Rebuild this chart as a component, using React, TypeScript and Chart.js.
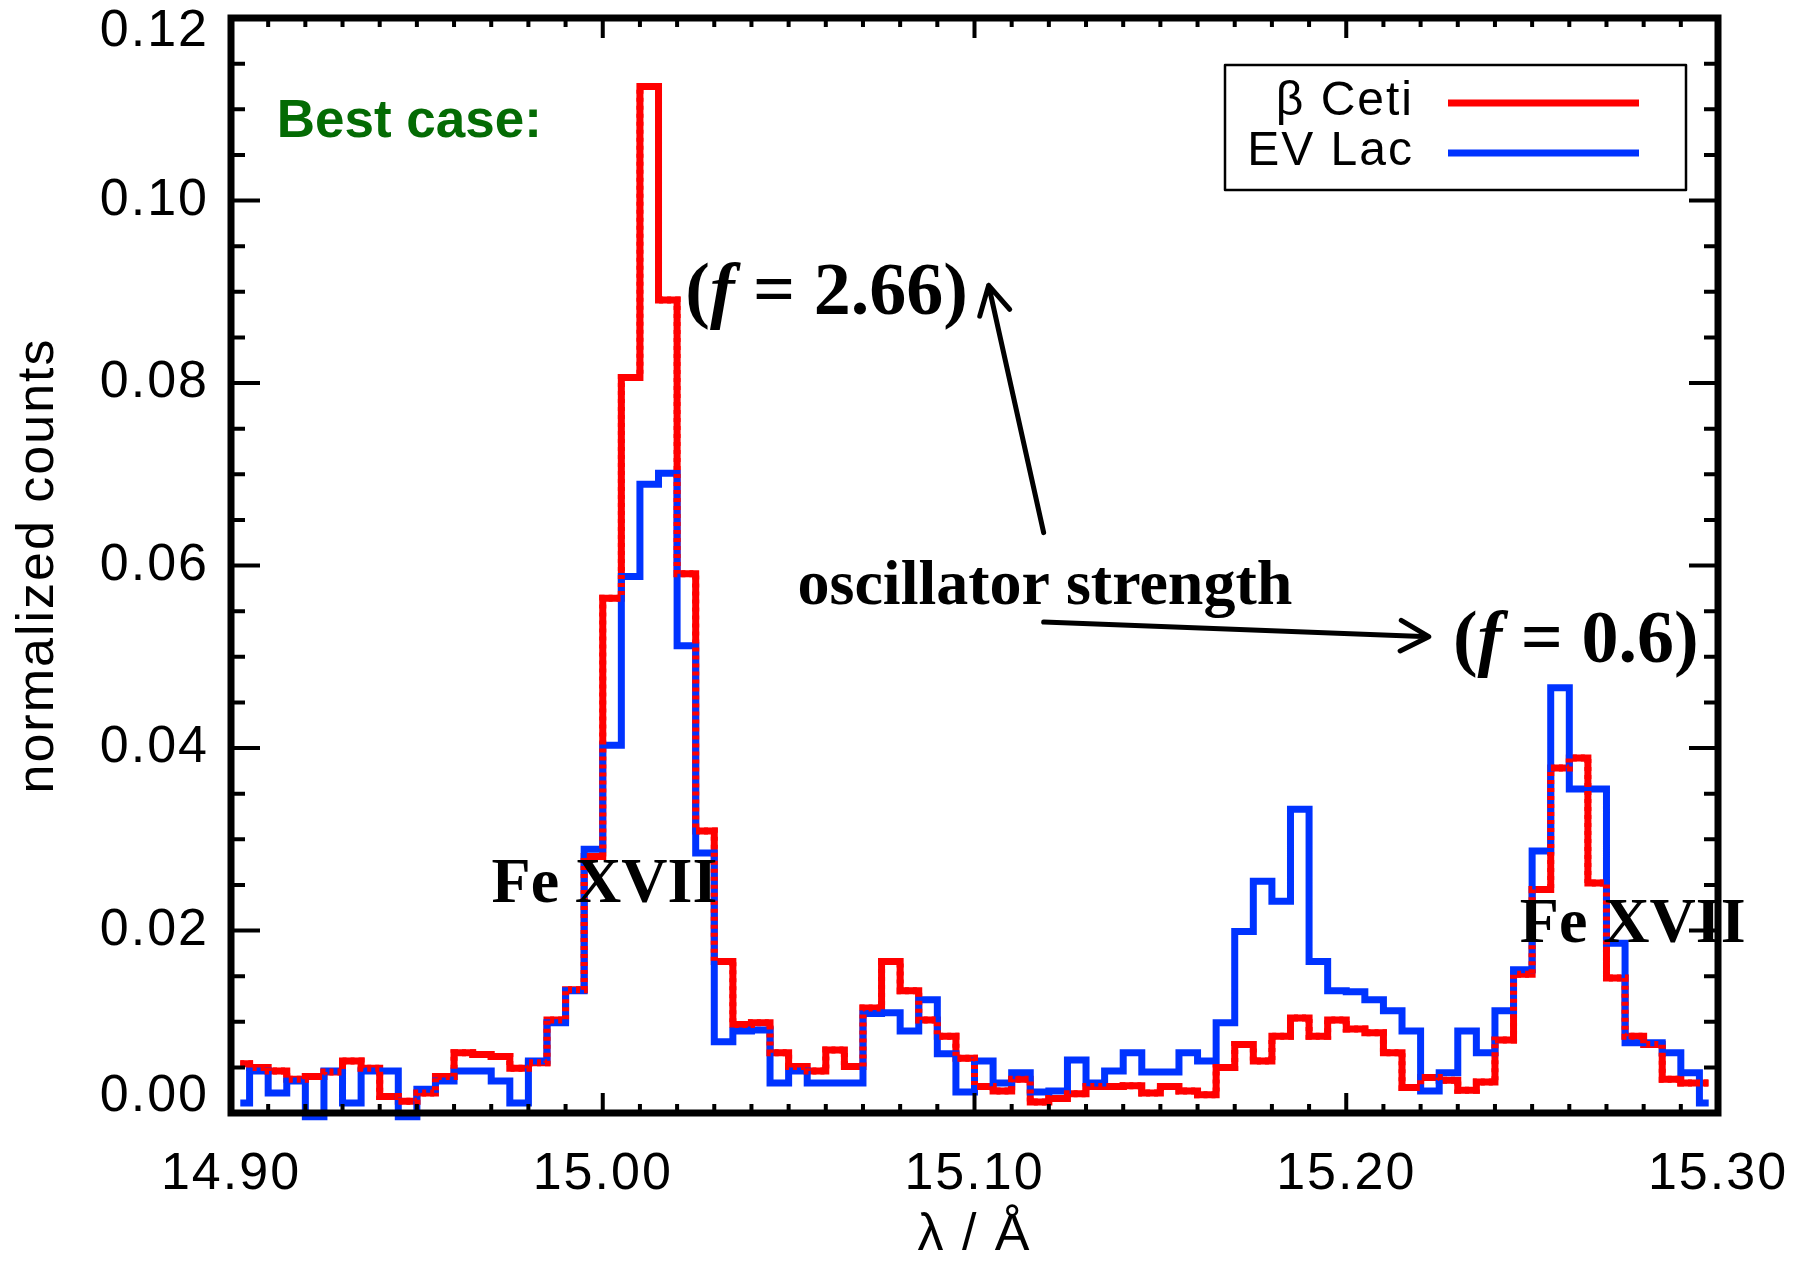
import React, { useEffect, useRef } from 'react';
import { Chart, registerables } from 'chart.js';

Chart.register(...registerables);

// Bin centres (Å)
const wavelength = [
  14.9025, 14.9075, 14.9125, 14.9175, 14.9225, 14.9275, 14.9325, 14.9375, 14.9425, 14.9475,
  14.9525, 14.9575, 14.9625, 14.9675, 14.9725, 14.9775, 14.9825, 14.9875, 14.9925, 14.9975,
  15.0025, 15.0075, 15.0125, 15.0175, 15.0225, 15.0275, 15.0325, 15.0375, 15.0425, 15.0475,
  15.0525, 15.0575, 15.0625, 15.0675, 15.0725, 15.0775, 15.0825, 15.0875, 15.0925, 15.0975,
  15.1025, 15.1075, 15.1125, 15.1175, 15.1225, 15.1275, 15.1325, 15.1375, 15.1425, 15.1475,
  15.1525, 15.1575, 15.1625, 15.1675, 15.1725, 15.1775, 15.1825, 15.1875, 15.1925, 15.1975,
  15.2025, 15.2075, 15.2125, 15.2175, 15.2225, 15.2275, 15.2325, 15.2375, 15.2425, 15.2475,
  15.2525, 15.2575, 15.2625, 15.2675, 15.2725, 15.2775, 15.2825, 15.2875, 15.2925, 15.2975,
];

// normalized counts, beta Ceti (red)
const betaCeti = [
  0.0054, 0.0050, 0.0046, 0.0037, 0.0040, 0.0045, 0.0057, 0.0049, 0.0018, 0.0013,
  0.0022, 0.0040, 0.0066, 0.0064, 0.0062, 0.0049, 0.0055, 0.0102, 0.0135, 0.0281,
  0.0564, 0.0806, 0.1125, 0.0891, 0.0591, 0.0309, 0.0166, 0.0097, 0.0099, 0.0066,
  0.0051, 0.0046, 0.0069, 0.0051, 0.0115, 0.0166, 0.0134, 0.0102, 0.0084, 0.0060,
  0.0029, 0.0024, 0.0037, 0.0012, 0.0016, 0.0021, 0.0029, 0.0029, 0.0030, 0.0022,
  0.0029, 0.0024, 0.0020, 0.0050, 0.0075, 0.0057, 0.0084, 0.0104, 0.0084, 0.0102,
  0.0092, 0.0088, 0.0066, 0.0028, 0.0039, 0.0036, 0.0025, 0.0034, 0.0080, 0.0152,
  0.0245, 0.0378, 0.0389, 0.0252, 0.0148, 0.0084, 0.0075, 0.0037, 0.0033, 0.0033,
];

// normalized counts, EV Lac (blue)
const evLac = [
  0.0011, 0.0046, 0.0022, 0.0035, -0.0004, 0.0046, 0.0011, 0.0046, 0.0046, -0.0004,
  0.0026, 0.0035, 0.0046, 0.0046, 0.0035, 0.0011, 0.0057, 0.0099, 0.0134, 0.0289,
  0.0403, 0.0588, 0.0689, 0.0701, 0.0512, 0.0285, 0.0078, 0.0090, 0.0091, 0.0033,
  0.0046, 0.0033, 0.0033, 0.0033, 0.0109, 0.0110, 0.0090, 0.0124, 0.0065, 0.0023,
  0.0057, 0.0033, 0.0044, 0.0023, 0.0024, 0.0058, 0.0033, 0.0046, 0.0066, 0.0045,
  0.0045, 0.0066, 0.0057, 0.0099, 0.0199, 0.0254, 0.0232, 0.0333, 0.0166, 0.0134,
  0.0133, 0.0124, 0.0112, 0.0090, 0.0024, 0.0044, 0.0090, 0.0066, 0.0112, 0.0157,
  0.0287, 0.0466, 0.0355, 0.0355, 0.0186, 0.0077, 0.0077, 0.0066, 0.0044, 0.0011,
];

const seriesLabels = ['β Ceti', 'EV Lac'];
const xTickValues = [14.9, 15.0, 15.1, 15.2, 15.3];
const yTickValues = [0, 0.02, 0.04, 0.06, 0.08, 0.1, 0.12];

const RED = '#ff0000';
const BLUE = '#0033ff';
const AXIS_FONT = '"Liberation Sans", Arial, sans-serif';
const SERIF = '"Liberation Serif", "Times New Roman", serif';

const toPoints = (ys: number[]) => wavelength.map((x, i) => ({ x, y: ys[i] }));

const overlayPlugin = {
  id: 'overlay',
  beforeDraw(chart: any) {
    chart.ctx.letterSpacing = '2px';
  },
  afterDatasetsDraw(chart: any) {
    const { ctx, chartArea: a, scales } = chart;
    const xs = scales.x;
    const ys = scales.y;
    ctx.save();
    ctx.strokeStyle = '#000';
    ctx.lineCap = 'butt';
    ctx.lineWidth = 4;
    // x ticks (top & bottom), minor every 0.01, major every 0.1
    for (let k = 0; k <= 40; k++) {
      const v = xs.min + k * 0.01;
      const px = xs.getPixelForValue(v);
      const len = k % 10 === 0 ? 20 : 9;
      ctx.beginPath();
      ctx.moveTo(px, a.bottom);
      ctx.lineTo(px, a.bottom - len);
      ctx.moveTo(px, a.top);
      ctx.lineTo(px, a.top + len);
      ctx.stroke();
    }
    // y ticks (left & right), minor every 0.005, major every 0.02
    for (let k = 0; k <= 24; k++) {
      const v = ys.min + k * 0.005;
      const py = ys.getPixelForValue(v);
      const len = k % 4 === 0 ? 29 : 14;
      ctx.beginPath();
      ctx.moveTo(a.left, py);
      ctx.lineTo(a.left + len, py);
      ctx.moveTo(a.right, py);
      ctx.lineTo(a.right - len, py);
      ctx.stroke();
    }
    // frame
    ctx.lineWidth = 7;
    ctx.lineJoin = 'miter';
    ctx.strokeRect(a.left, a.top, a.right - a.left, a.bottom - a.top);
    ctx.restore();
  },
  afterDraw(chart: any) {
    const { ctx, scales } = chart;
    const xs = scales.x;
    const ys = scales.y;
    const X = (v: number) => xs.getPixelForValue(v);
    const Y = (v: number) => ys.getPixelForValue(v);
    ctx.save();
    ctx.letterSpacing = '0px';
    ctx.textAlign = 'left';
    ctx.textBaseline = 'alphabetic';

    // "Best case:"
    ctx.fillStyle = '#046b04';
    ctx.font = `bold 53px ${AXIS_FONT}`;
    ctx.fillText('Best case:', X(14.9123), Y(0.107));

    ctx.fillStyle = '#000';
    const fText = (x: number, y: number, rest: string, size: number) => {
      ctx.font = `bold ${size}px ${SERIF}`;
      ctx.fillText('(', x, y);
      let cx = x + ctx.measureText('(').width;
      ctx.font = `italic bold ${size}px ${SERIF}`;
      ctx.fillText('f', cx, y);
      cx += ctx.measureText('f').width;
      ctx.font = `bold ${size}px ${SERIF}`;
      ctx.fillText(rest, cx, y);
    };
    fText(X(15.0222), Y(0.0876), ' = 2.66)', 74);
    fText(X(15.2287), Y(0.0494), ' = 0.6)', 74);

    ctx.font = `bold 64px ${SERIF}`;
    ctx.fillText('oscillator strength', X(15.0524), Y(0.0558));

    ctx.font = `bold 64px ${SERIF}`;
    ctx.fillText('Fe XVII', X(14.9701), Y(0.0231));
    ctx.fillText('Fe XVII', X(15.2467), Y(0.0187));

    // arrows
    const arrow = (x0: number, y0: number, x1: number, y1: number) => {
      const p0 = [X(x0), Y(y0)];
      const p1 = [X(x1), Y(y1)];
      const ang = Math.atan2(p1[1] - p0[1], p1[0] - p0[0]);
      ctx.strokeStyle = '#000';
      ctx.lineWidth = 5;
      ctx.lineCap = 'round';
      ctx.lineJoin = 'round';
      ctx.beginPath();
      ctx.moveTo(p0[0], p0[1]);
      ctx.lineTo(p1[0], p1[1]);
      const L = 32;
      const spread = 0.5;
      ctx.moveTo(p1[0] - L * Math.cos(ang - spread), p1[1] - L * Math.sin(ang - spread));
      ctx.lineTo(p1[0], p1[1]);
      ctx.lineTo(p1[0] - L * Math.cos(ang + spread), p1[1] - L * Math.sin(ang + spread));
      ctx.stroke();
    };
    arrow(15.1186, 0.0636, 15.1038, 0.0907);
    arrow(15.1186, 0.0538, 15.2222, 0.0522);

    // legend
    const lx = 1225, ly = 65, lw = 461, lh = 125;
    ctx.lineWidth = 2.5;
    ctx.lineCap = 'butt';
    ctx.strokeStyle = '#000';
    ctx.strokeRect(lx, ly, lw, lh);
    ctx.font = `48px ${AXIS_FONT}`;
    ctx.letterSpacing = '2px';
    ctx.textAlign = 'right';
    const colors = [RED, BLUE];
    seriesLabels.forEach((lab, i) => {
      const base = 115 + i * 50;
      ctx.fillStyle = '#000';
      ctx.fillText(lab, 1414, base);
      ctx.strokeStyle = colors[i];
      ctx.lineWidth = 7;
      ctx.beginPath();
      ctx.moveTo(1448, base - 12);
      ctx.lineTo(1639, base - 12);
      ctx.stroke();
    });
    ctx.restore();
  },
};

export default function App() {
  const ref = useRef<HTMLCanvasElement>(null);
  useEffect(() => {
    if (!ref.current) return;
    const common = {
      borderWidth: 7,
      stepped: 'middle' as const,
      pointRadius: 0,
      fill: false,
      clip: false as any,
      borderJoinStyle: 'miter' as const,
      borderCapStyle: 'butt' as const,
    };
    const yMin = yTickValues[0];
    const yMax = yTickValues[yTickValues.length - 1];
    const chart = new Chart(ref.current, {
      type: 'line',
      data: {
        datasets: [
          { ...common, label: seriesLabels[0], data: toPoints(betaCeti), borderColor: RED, order: 3 },
          { ...common, label: seriesLabels[1], data: toPoints(evLac), borderColor: BLUE, order: 2 },
          { ...common, label: 'overlap', data: toPoints(betaCeti), borderColor: RED, borderDash: [4, 4], order: 1 },
        ],
      },
      options: {
        animation: false,
        responsive: false,
        devicePixelRatio: 1,
        layout: { autoPadding: false, padding: { top: 18, right: 75, left: 0, bottom: 0 } },
        plugins: { legend: { display: false }, tooltip: { enabled: false } },
        scales: {
          x: {
            type: 'linear',
            min: 14.9,
            max: 15.3,
            afterFit: (s: any) => {
              s.height = 155;
              s.paddingLeft = 0;
              s.paddingRight = 0;
              s.paddingTop = 0;
              s.paddingBottom = 0;
            },
            afterBuildTicks: (s: any) => { s.ticks = xTickValues.map((v) => ({ value: v })); },
            grid: { display: false, drawTicks: false },
            border: { display: false },
            ticks: {
              color: '#000',
              font: { family: AXIS_FONT, size: 52 },
              padding: 30,
              maxRotation: 0,
              autoSkip: false,
              callback: (v: any) => Number(v).toFixed(2),
            },
            title: {
              display: true,
              text: 'λ / Å',
              color: '#000',
              font: { family: AXIS_FONT, size: 52 },
              padding: { top: 0, bottom: 1 },
            },
          },
          y: {
            type: 'linear',
            min: yMin,
            max: yMax,
            afterFit: (s: any) => {
              s.width = 231;
              s.paddingLeft = 0;
              s.paddingRight = 0;
              s.paddingTop = 0;
              s.paddingBottom = 0;
            },
            afterBuildTicks: (s: any) => { s.ticks = yTickValues.map((v) => ({ value: v })); },
            grid: { display: false, drawTicks: false },
            border: { display: false },
            ticks: {
              color: '#000',
              font: (c: any) => {
                const v = c.tick ? c.tick.value : undefined;
                if (v === yMax) return { family: AXIS_FONT, size: 52, lineHeight: '28px' };
                if (v === yMin) return { family: AXIS_FONT, size: 52, lineHeight: '32px' };
                return { family: AXIS_FONT, size: 52 };
              },
              padding: 22,
              autoSkip: false,
              callback: (v: any) => {
                const s = Number(v).toFixed(2);
                if (v === yMax) return ['', s];
                if (v === yMin) return [s, ''];
                return s;
              },
            },
            title: {
              display: true,
              text: 'normalized counts',
              color: '#000',
              font: { family: AXIS_FONT, size: 52 },
              padding: { top: 7, bottom: 0 },
            },
          },
        },
      },
      plugins: [overlayPlugin],
    });
    return () => chart.destroy();
  }, []);
  return (
    <div style={{ position: 'fixed', left: 0, top: 0, width: 1793, height: 1268, background: '#fff' }}>
      <canvas ref={ref} width={1793} height={1268} style={{ display: 'block' }} />
    </div>
  );
}
